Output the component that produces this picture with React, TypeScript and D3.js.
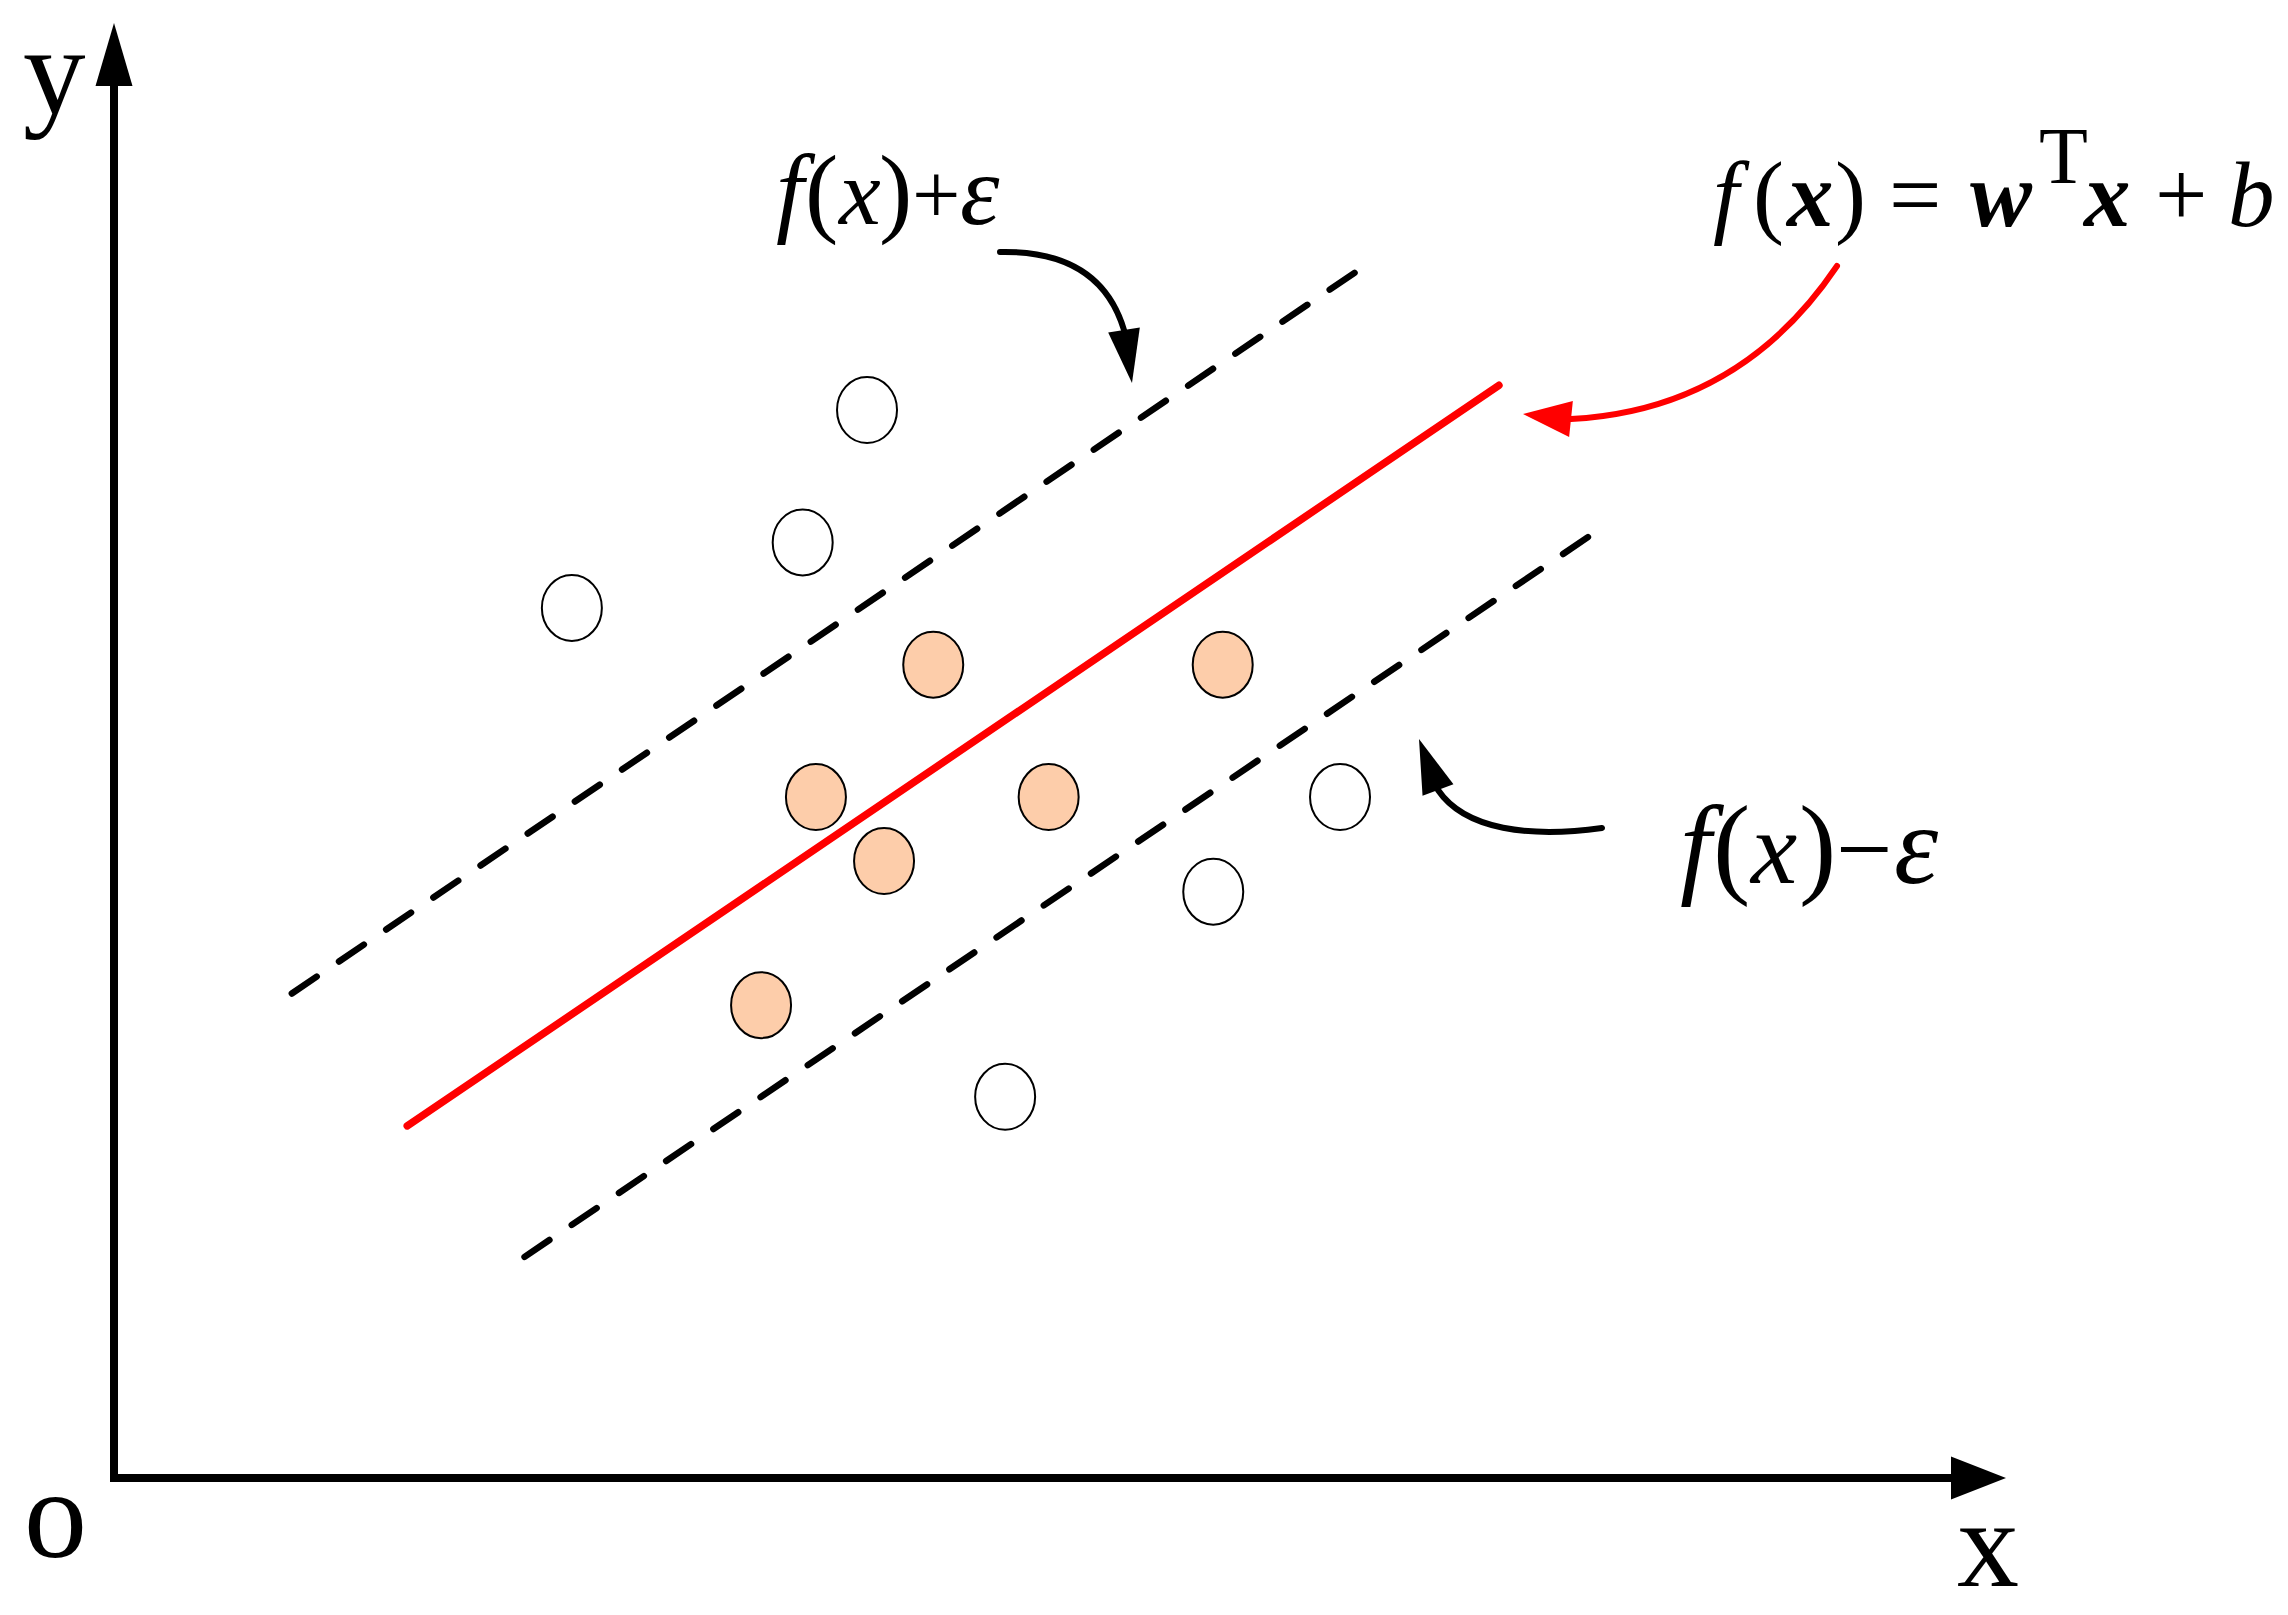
import * as d3 from 'd3'

const width = 2288
const height = 1615

// samples outside the epsilon tube (data units, 0..100 on both axes)
const outsideX = [39.8, 36.4, 24.2, 64.8, 58.1, 47.1]
const outsideY = [73.4, 64.3, 59.8, 46.8, 40.3, 26.2]
// samples inside the tube
const insideX = [43.3, 58.6, 37.1, 49.4, 40.7, 34.2]
const insideY = [55.9, 55.9, 46.8, 46.8, 42.4, 32.5]

// f(x) and f(x) +/- eps, endpoints
const fitX = [15.5, 73.2]
const fitY = [24.2, 75.1]
const upperX = [9.4, 66.1]
const upperY = [33.3, 83.3]
const lowerX = [21.7, 78.4]
const lowerY = [15.2, 65.1]

const SERIF = '"Liberation Serif", "Times New Roman", serif'
const PEACH = '#FDCDAA'
const RED = '#FF0000'

type Pt = [number, number]
type Glyph = {t: string, x: number, it?: boolean, b?: boolean, fs?: number, y?: number}

const plusEps: Glyph[] = [
  {t: 'f', x: 776, it: true},
  {t: '(', x: 805},
  {t: 'x', x: 839, it: true, fs: 94},
  {t: ')', x: 879},
  {t: '+', x: 912, fs: 86},
  {t: 'ε', x: 960, it: true},
]

const minusEps: Glyph[] = [
  {t: 'f', x: 1680, it: true},
  {t: '(', x: 1713},
  {t: 'x', x: 1751, it: true, fs: 104},
  {t: ')', x: 1799},
  {t: '−', x: 1836, fs: 100},
  {t: 'ε', x: 1894, it: true},
]

const model: Glyph[] = [
  {t: 'f', x: 1713, it: true},
  {t: '(', x: 1753},
  {t: 'x', x: 1787, it: true, b: true},
  {t: ')', x: 1835},
  {t: '=', x: 1889},
  {t: 'w', x: 1970, it: true, b: true},
  {t: 'T', x: 2039, fs: 80, y: 183},
  {t: 'x', x: 2084, it: true, b: true},
  {t: '+', x: 2155},
  {t: 'b', x: 2228, it: true},
]

function head(tip: Pt, base: Pt, w: number) {
  const dx = tip[0] - base[0]
  const dy = tip[1] - base[1]
  const len = Math.hypot(dx, dy)
  const nx = -dy / len * w / 2
  const ny = dx / len * w / 2
  return `M${tip[0]},${tip[1]}L${base[0] + nx},${base[1] + ny}L${base[0] - nx},${base[1] - ny}Z`
}

// one text element, each glyph placed like an equation editor would
function Formula({glyphs, y, fs}: {glyphs: Glyph[], y: number, fs: number}) {
  return (
    <text fontFamily={SERIF} fill={'#000'} fontSize={fs}>
      {glyphs.map((g, i) => (
        <tspan
          key={i}
          x={g.x}
          y={g.y ?? y}
          fontSize={g.fs ?? fs}
          fontStyle={g.it ? 'italic' : 'normal'}
          fontWeight={g.b ? 700 : 400}
        >
          {g.t}
        </tspan>
      ))}
    </text>
  )
}

export default function App() {
  const x = d3.scaleLinear().domain([0, 100]).range([114, 2006])
  const y = d3.scaleLinear().domain([0, 100]).range([1478, 23])
  const line = d3.line<Pt>().x(d => x(d[0])).y(d => y(d[1]))

  const seg = (xs: number[], ys: number[]) => line(xs.map((v, i) => [v, ys[i]] as Pt)) ?? undefined

  const x0 = x(0)
  const y0 = y(0)

  return (
    <svg
      width={width}
      height={height}
      viewBox={`0 0 ${width} ${height}`}
      style={{position: 'absolute', left: 0, top: 0, background: '#fff'}}
    >
      <rect width={width} height={height} fill={'#fff'} />

      {/* axes */}
      <line x1={x0} y1={y0 + 4} x2={x0} y2={y(100) + 63} stroke={'#000'} strokeWidth={8} />
      <path d={head([x0, y(100)], [x0, y(100) + 63], 37)} fill={'#000'} />
      <line x1={x0 - 4} y1={y0} x2={x(100) - 55} y2={y0} stroke={'#000'} strokeWidth={8} />
      <path d={head([x(100), y0], [x(100) - 55, y0], 43)} fill={'#000'} />

      <g fontFamily={SERIF} fill={'#000'}>
        <text x={23} y={113} fontSize={125}>y</text>
        <text x={1957} y={1586} fontSize={124}>x</text>
        <text x={24} y={1557} fontSize={126}>o</text>
      </g>

      {/* epsilon tube */}
      <path d={seg(upperX, upperY)} stroke={'#000'} strokeWidth={6.5} strokeDasharray={'30 27'} strokeLinecap={'round'} fill={'none'} />
      <path d={seg(lowerX, lowerY)} stroke={'#000'} strokeWidth={6.5} strokeDasharray={'30 27'} strokeLinecap={'round'} fill={'none'} />
      <path d={seg(fitX, fitY)} stroke={RED} strokeWidth={7.5} strokeLinecap={'round'} fill={'none'} />

      {/* samples */}
      {outsideX.map((v, i) => (
        <ellipse key={'o' + i} cx={x(v)} cy={y(outsideY[i])} rx={30} ry={33} fill={'#fff'} stroke={'#000'} strokeWidth={2} />
      ))}
      {insideX.map((v, i) => (
        <ellipse key={'i' + i} cx={x(v)} cy={y(insideY[i])} rx={30} ry={33} fill={PEACH} stroke={'#000'} strokeWidth={2} />
      ))}

      {/* annotation arrows */}
      <path d={'M1000,252 Q1100,250 1124,330'} stroke={'#000'} strokeWidth={6} fill={'none'} strokeLinecap={'round'} />
      <path d={head([1132, 383], [1124, 330], 32)} fill={'#000'} />

      <path d={'M1837,266 Q1740,410 1571,419'} stroke={RED} strokeWidth={6} fill={'none'} strokeLinecap={'round'} />
      <path d={head([1523, 414], [1571, 419], 36)} fill={RED} />

      <path d={'M1602,828 C1530,838 1465,830 1438,790'} stroke={'#000'} strokeWidth={6} fill={'none'} strokeLinecap={'round'} />
      <path d={head([1419, 739], [1438, 790], 33)} fill={'#000'} />

      {/* labels */}
      <Formula glyphs={plusEps} y={224} fs={100} />
      <Formula glyphs={minusEps} y={883} fs={112} />
      <Formula glyphs={model} y={226} fs={93} />
    </svg>
  )
}
